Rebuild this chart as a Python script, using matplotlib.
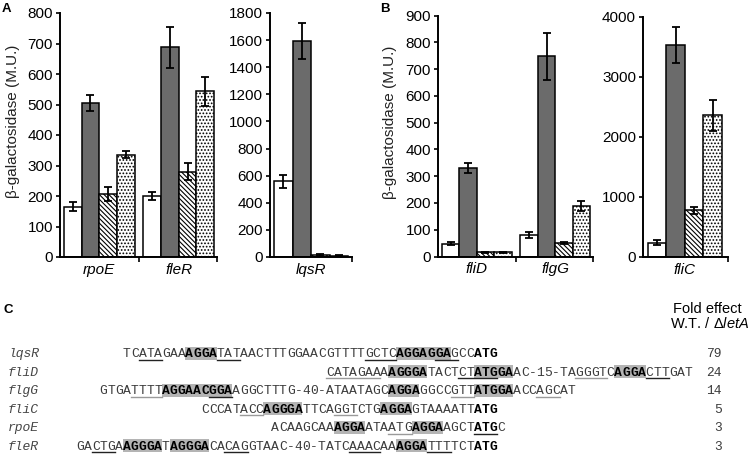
import matplotlib
matplotlib.use("Agg")
import matplotlib.pyplot as plt
from matplotlib.patches import Rectangle
from matplotlib.lines import Line2D

# ---- panel A / B data (beta-galactosidase, M.U.) ----
# series order: white, dark grey, hatched, dotted
a1_groups = ["rpoE", "fleR"]
a1_vals = [[165, 200], [505, 687], [207, 280], [336, 543]]
a1_errs = [[15, 14], [25, 67], [22, 27], [12, 48]]

a2_groups = ["lqsR"]
a2_vals = [[560], [1592], [15], [10]]
a2_errs = [[48], [132], [4], [3]]

b1_groups = ["fliD", "flgG"]
b1_vals = [[48, 81], [330, 748], [15, 51], [15, 188]]
b1_errs = [[5, 12], [18, 88], [2, 4], [2, 18]]

b2_groups = ["fliC"]
b2_vals = [[240], [3540], [780], [2360]]
b2_errs = [[40], [300], [55], [255]]

# ---- panel C data (leader sequences) ----
seq_names = ["lqsR", "fliD", "flgG", "fliC", "rpoE", "fleR"]
seqs = [
    "TCATAGAAAGGATATAACTTTGGAACGTTTTGCTCAGGAGGAGCCATG",
    "CATAGAAAAGGGATACTCTATGGAAC-15-TAGGGTCAGGACTTGAT",
    "GTGATTTTAGGAACGGAAGGCTTTG-40-ATAATAGCAGGAGGCCGTTATGGAACCAGCAT",
    "CCCATACCAGGGATTCAGGTCTGAGGAGTAAAATTATG",
    "ACAAGCAAAGGAATAATGAGGAAGCTATGC",
    "GACTGAAGGGATAGGGACACAGGTAAC-40-TATCAAACAAAGGATTTTCTATG",
]
start_codon = [45, 19, 48, 35, 26, 51]   # index of aligned ATG in each sequence
sd_spans = [[(8, 11), (35, 41)],
            [(8, 12), (19, 23), (37, 40)],
            [(8, 16), (37, 40), (48, 52)],
            [(8, 12), (23, 26)],
            [(8, 11), (18, 21)],
            [(6, 10), (12, 16), (41, 44)]]
atg_spans = [[(45, 47)], [], [], [(35, 37)], [(26, 28)], [(51, 53)]]
ul_dark = [[(2, 4), (12, 14), (31, 34), (40, 42)],
           [(17, 21), (41, 43)],
           [(14, 16)],
           [],
           [(26, 28)],
           [(2, 4), (19, 21), (35, 38), (45, 47)]]
ul_grey = [[], [(0, 6), (32, 35)], [(4, 7), (45, 47), (56, 58)],
           [(5, 7), (17, 19)], [(15, 17)], []]
fold_effect = [79, 24, 14, 5, 3, 3]

W, H = 750, 454
plt.rcParams['font.family'] = ['Liberation Sans', 'DejaVu Sans']
plt.rcParams['hatch.linewidth'] = 0.8
plt.rcParams['mathtext.fontset'] = 'custom'
plt.rcParams['mathtext.rm'] = 'Liberation Sans'
plt.rcParams['mathtext.it'] = 'Liberation Sans:italic'

fig = plt.figure(figsize=(7.5, 4.54), dpi=100)


def fx(px):
    return px / W


def fy(py):
    return 1 - py / H


STYLES = [dict(facecolor="white"),
          dict(facecolor="#6b6b6b"),
          dict(facecolor="white", hatch="\\" * 7),
          dict(facecolor="white", hatch=".....")]


def bar_panel(left, right, top, bottom, groups, vals, errs, ymax, ystep,
              pad_l=0.22, gap=0.5, pad_r=0.16):
    ax = fig.add_axes([fx(left), fy(bottom), fx(right) - fx(left),
                       fy(top) - fy(bottom)])
    step = 4 + gap
    for s in range(4):
        xs = [pad_l + g * step + s + 0.5 for g in range(len(groups))]
        ax.bar(xs, vals[s], width=1, edgecolor="black", linewidth=1.1,
               zorder=2, **STYLES[s])
        ax.errorbar(xs, vals[s], yerr=errs[s], fmt="none", ecolor="black",
                    elinewidth=1.3, capsize=3, capthick=1.3, zorder=3)
    xmax = pad_l + len(groups) * 4 + (len(groups) - 1) * gap + pad_r
    ax.set_xlim(0, xmax)
    ax.set_ylim(0, ymax)
    ax.set_yticks(range(0, ymax + 1, ystep))
    bounds = [pad_l + g * step + 4 + gap / 2 for g in range(len(groups) - 1)]
    ax.set_xticks(bounds + [xmax])
    ax.set_xticklabels([])
    ax.set_xticks([pad_l + g * step + 2 for g in range(len(groups))], minor=True)
    ax.set_xticklabels(groups, minor=True, style="italic", fontsize=11)
    ax.tick_params(axis="x", which="minor", length=0, pad=4)
    ax.tick_params(axis="x", which="major", length=3.5, width=1.2)
    ax.tick_params(axis="y", length=3, width=1.2, pad=2, labelsize=11)
    for sp in ("top", "right"):
        ax.spines[sp].set_visible(False)
    for sp in ("left", "bottom"):
        ax.spines[sp].set_linewidth(1.4)
    return ax


bar_panel(60, 217, 13, 257, a1_groups, a1_vals, a1_errs, 800, 100)
bar_panel(270, 352, 13, 257, a2_groups, a2_vals, a2_errs, 1800, 200, pad_r=0.2)
bar_panel(438, 593, 15.5, 256.5, b1_groups, b1_vals, b1_errs, 900, 100)
bar_panel(643, 728, 17, 257, b2_groups, b2_vals, b2_errs, 4000, 1000,
          pad_l=0.27, pad_r=0.33)

ylab = "β-galactosidase (M.U.)"
fig.text(fx(13), fy(121), ylab, rotation=90, ha="center", va="center",
         fontsize=11, color="#222222")
fig.text(fx(390), fy(122), ylab, rotation=90, ha="center", va="center",
         fontsize=11, color="#222222")

fig.text(fx(2), fy(3), "A", fontsize=9.5, fontweight="bold", va="top")
fig.text(fx(380), fy(3), "B", fontsize=9.5, fontweight="bold", va="top")
fig.text(fx(3), fy(304), "C", fontsize=9.5, fontweight="bold", va="top")

# ---- panel C ----
CW = 7.8
X0 = 123
ROW0, ROWSTEP = 353, 18.5
MONO = "Liberation Mono"
FS = 9.4
align_col = start_codon[0]

fig.text(fx(707), fy(309), "Fold effect", ha="center", va="center", fontsize=10.5)
fig.text(fx(749), fy(324), r"W.T. / $\Delta\mathit{letA}$", ha="right",
         va="center", fontsize=10.5)

for r, name in enumerate(seq_names):
    seq = seqs[r]
    c0 = align_col - start_codon[r]
    yc = ROW0 + r * ROWSTEP
    base = yc + 4.2
    fig.text(fx(8), fy(base), name, family=MONO, style="italic", fontsize=FS,
             color="#444444", va="baseline")
    bold = set()
    for a, b in sd_spans[r]:
        xl = X0 + (c0 + a) * CW
        xr = X0 + (c0 + b + 1) * CW
        fig.add_artist(Rectangle((fx(xl), fy(yc + 6.5)), fx(xr) - fx(xl),
                                 13 / H, transform=fig.transFigure,
                                 facecolor="#b4b4b4", edgecolor="none",
                                 zorder=0))
        bold.update(range(a, b + 1))
    for a, b in atg_spans[r]:
        bold.update(range(a, b + 1))
    for i, ch in enumerate(seq):
        cx = X0 + (c0 + i + 0.5) * CW
        if i in bold:
            fig.text(fx(cx), fy(base), ch, family=MONO, fontsize=FS,
                     fontweight="bold", color="black", ha="center",
                     va="baseline", zorder=3)
        else:
            fig.text(fx(cx), fy(base), ch, family=MONO, fontsize=FS,
                     color="#3c3c3c", ha="center", va="baseline", zorder=3)
    uy = base + 2.5
    for spans, col in ((ul_dark[r], "#222222"), (ul_grey[r], "#9a9a9a")):
        for a, b in spans:
            xl = X0 + (c0 + a) * CW
            xr = X0 + (c0 + b + 1) * CW
            fig.add_artist(Line2D([fx(xl), fx(xr)], [fy(uy), fy(uy)],
                                  transform=fig.transFigure, color=col,
                                  lw=1.0, zorder=2))
    fig.text(fx(722), fy(base), str(fold_effect[r]), family=MONO, fontsize=FS,
             color="#3c3c3c", ha="right", va="baseline")

fig.savefig("out.png", dpi=100)
